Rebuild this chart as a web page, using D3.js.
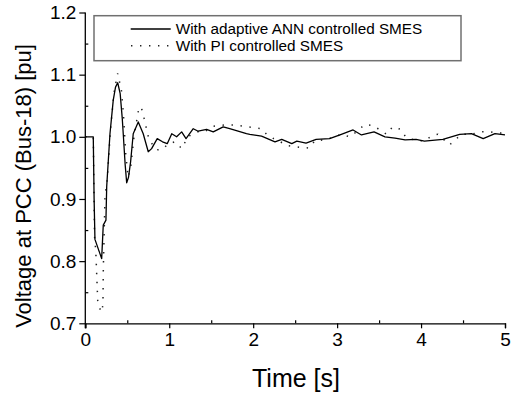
<!DOCTYPE html>
<html>
<head>
<meta charset="utf-8">
<script src="https://cdn.jsdelivr.net/npm/d3@7"></script>
<style>
html,body{margin:0;padding:0;background:#fff;}
svg{display:block;}
text{font-family:"Liberation Sans",Arial,sans-serif;fill:#000;}
</style>
</head>
<body>
<svg id="chart" width="511" height="394"></svg>
<script>
// ---- data ----
const annTime = [0,0.095,0.105,0.115,0.195,0.214,0.246,0.255,0.294,0.333,0.36,0.386,0.415,0.44,0.452,0.475,0.493,0.515,0.54,0.571,0.631,0.69,0.75,0.79,0.857,0.92,0.976,1.03,1.088,1.148,1.2,1.286,1.345,1.445,1.524,1.643,1.72,1.80,1.92,1.96,2.10,2.26,2.34,2.46,2.52,2.63,2.75,2.91,3.05,3.19,3.29,3.44,3.57,3.69,3.81,3.94,4.04,4.26,4.46,4.60,4.74,4.88,5.0];
const annValue = [1.0,1.0,0.90,0.835,0.804,0.858,0.866,0.92,1.005,1.059,1.080,1.087,1.070,1.030,1.005,0.955,0.926,0.935,0.960,1.005,1.024,1.005,0.976,0.981,0.997,0.992,0.989,1.005,1.0,1.008,0.997,1.013,1.009,1.012,1.008,1.016,1.013,1.010,1.005,1.004,1.001,0.992,0.996,0.989,0.993,0.990,0.996,0.997,1.004,1.011,1.003,1.008,1.0,0.998,0.995,0.996,0.993,0.996,1.004,1.005,0.997,1.005,1.003];

const piTime = [0,0.095,0.11,0.125,0.15,0.195,0.21,0.215,0.235,0.26,0.30,0.34,0.386,0.43,0.455,0.48,0.51,0.54,0.58,0.64,0.67,0.70,0.76,0.85,0.92,0.99,1.07,1.15,1.22,1.33,1.42,1.52,1.66,1.76,1.84,2.0,2.1,2.16,2.245,2.325,2.397,2.565,2.67,2.735,2.855,3.05,3.15,3.23,3.33,3.43,3.59,3.66,3.76,3.82,3.92,4.04,4.13,4.20,4.34,4.48,4.60,4.71,4.82,4.90,4.97];
const piValue = [1.0,1.0,0.84,0.816,0.73,0.718,0.73,0.79,0.904,0.93,1.01,1.07,1.102,1.075,1.035,0.975,0.935,0.95,1.000,1.048,1.046,1.03,0.995,0.979,0.980,0.989,0.992,0.981,1.0,1.008,1.008,1.017,1.019,1.019,1.018,1.015,1.013,1.004,0.997,0.992,0.986,0.983,0.982,0.994,0.995,1.004,1.0,1.008,1.020,1.018,1.004,1.016,1.012,0.999,0.995,0.993,1.002,1.004,0.987,1.004,1.004,1.008,1.008,1.006,1.006];

const xTicks = [0,1,2,3,4,5];
const xMinor = [0.5,1.5,2.5,3.5,4.5];
const yTicks = [0.7,0.8,0.9,1.0,1.1,1.2];
const yMinor = [0.75,0.85,0.95,1.05,1.15];
const legendLabels = ["With adaptive ANN controlled SMES","With PI controlled SMES"];
const xTitle = "Time [s]";
const yTitle = "Voltage at PCC (Bus-18) [pu]";

// ---- drawing ----
const svg = d3.select("#chart");
const x = d3.scaleLinear().domain([0,5]).range([85.3,505]);
const y = d3.scaleLinear().domain([0.7,1.2]).range([323.3,12.5]);

const line = d3.line().x(d=>x(d[0])).y(d=>y(d[1]));
const annData = annTime.map((t,i)=>[t,annValue[i]]);
const piData = piTime.map((t,i)=>[t,piValue[i]]);

svg.append("path").datum(piData).attr("d",line)
  .attr("fill","none").attr("stroke","#222").attr("stroke-width",1.5)
  .attr("stroke-dasharray","1.4,7.6");
svg.append("path").datum(annData).attr("d",line)
  .attr("fill","none").attr("stroke","#000").attr("stroke-width",1.3)
  .attr("stroke-linejoin","round");

// axes
const gx = svg.append("g").attr("transform",`translate(0,${y(0.7)})`)
  .call(d3.axisBottom(x).tickValues(xTicks).tickSize(5).tickPadding(4).tickFormat(d3.format("d")));
const gxm = svg.append("g").attr("transform",`translate(0,${y(0.7)})`)
  .call(d3.axisTop(x).tickValues(xMinor).tickSize(3).tickFormat(""));
const gy = svg.append("g").attr("transform",`translate(${x(0)},0)`)
  .call(d3.axisLeft(y).tickValues(yTicks).tickSize(6).tickPadding(3).tickFormat(d3.format(".1f")));
const gym = svg.append("g").attr("transform",`translate(${x(0)},0)`)
  .call(d3.axisRight(y).tickValues(yMinor).tickSize(3).tickFormat(""));

[gx,gxm,gy,gym].forEach(g=>{
  g.select(".domain").attr("stroke","#000").attr("stroke-width",1.3);
  g.selectAll(".tick line").attr("stroke","#000").attr("stroke-width",1.2);
  g.selectAll(".tick text").style("font-family","'Liberation Sans',Arial,sans-serif").style("font-size","19px").attr("fill","#000");
});
gxm.select(".domain").remove();
gym.select(".domain").remove();
gy.select(".domain").attr("d",`M0,${y(1.2)}V${y(0.7)+5}`);

// axis titles
svg.append("text").attr("x",296).attr("y",387).attr("text-anchor","middle")
  .style("font-size","25px").text(xTitle);
svg.append("text").attr("transform","translate(31,186) rotate(-90)").attr("text-anchor","middle")
  .style("font-size","22px").text(yTitle);

// legend
const lg = svg.append("g");
lg.append("rect").attr("x",94).attr("y",15.7).attr("width",367).attr("height",45)
  .attr("fill","#fff").attr("stroke","#707070").attr("stroke-width",1.5);
const rows = [29,45.7];
lg.append("line").attr("x1",130.7).attr("x2",170.7).attr("y1",rows[0]).attr("y2",rows[0])
  .attr("stroke","#000").attr("stroke-width",1.3);
lg.append("line").attr("x1",131).attr("x2",171).attr("y1",rows[1]).attr("y2",rows[1])
  .attr("stroke","#222").attr("stroke-width",1.5).attr("stroke-dasharray","1.4,7.6");
legendLabels.forEach((s,i)=>{
  lg.append("text").attr("x",175.7).attr("y",rows[i]+5.3).style("font-size","15.3px").text(s);
});
</script>
</body>
</html>
